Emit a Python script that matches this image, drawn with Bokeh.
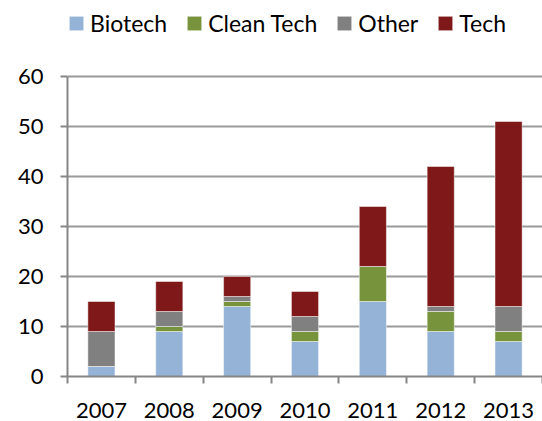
from bokeh.plotting import figure
from bokeh.models import ColumnDataSource, Range1d, FixedTicker, Legend, LegendItem
from bokeh.embed import file_html
from bokeh.resources import INLINE

years = ["2007", "2008", "2009", "2010", "2011", "2012", "2013"]
biotech = [2, 9, 14, 7, 15, 9, 7]
clean_tech = [0, 1, 1, 2, 7, 4, 2]
other = [7, 3, 1, 3, 0, 1, 5]
tech = [6, 6, 4, 5, 12, 28, 37]
series = ["Biotech", "Clean Tech", "Other", "Tech"]
colors = ["#95B3D7", "#77933C", "#808080", "#7F1919"]
y_ticks = [0, 10, 20, 30, 40, 50, 60]

xpos = [i + 1 for i in range(len(years))]
source = ColumnDataSource(dict(x=xpos, Biotech=biotech, **{"Clean Tech": clean_tech},
                               Other=other, Tech=tech))

FONT = "Lato"
AX = "#868686"

# frame runs to the top of the figure so the legend sits inside it;
# the value axis itself is bounded to 0..60
p = figure(width=542, height=421, output_backend="svg", toolbar_location=None,
           x_range=Range1d(0.5, len(years) + 0.5), y_range=Range1d(0, 74.4),
           min_border_left=67, min_border_right=0, min_border_top=4, min_border_bottom=45)
p.outline_line_color = None

renderers = p.vbar_stack(series, x="x", width=0.4, source=source, color=colors,
                         line_color="white", line_width=0.8, line_alpha=0.6)

# x axis
p.xaxis.ticker = FixedTicker(ticks=xpos, minor_ticks=[i + 0.5 for i in range(len(years) + 1)])
p.xaxis.major_label_overrides = {x: y for x, y in zip(xpos, years)}
p.xaxis.major_tick_line_color = None
p.xaxis.major_tick_out = 0
p.xaxis.major_tick_in = 0
p.xaxis.minor_tick_line_color = AX
p.xaxis.minor_tick_line_width = 2
p.xaxis.minor_tick_out = 7
p.xaxis.minor_tick_in = 0
p.xaxis.axis_line_color = AX
p.xaxis.axis_line_width = 2
p.xaxis.major_label_text_font = FONT
p.xaxis.major_label_text_font_size = "22px"
p.xaxis.major_label_text_color = "#000000"
p.xaxis.major_label_standoff = 19

# y axis
p.yaxis.ticker = FixedTicker(ticks=y_ticks)
p.yaxis.bounds = (y_ticks[0], y_ticks[-1])
p.yaxis.axis_line_color = AX
p.yaxis.axis_line_width = 2
p.yaxis.major_tick_line_color = AX
p.yaxis.major_tick_line_width = 2
p.yaxis.major_tick_out = 7
p.yaxis.major_tick_in = 0
p.yaxis.minor_tick_line_color = None
p.yaxis.major_label_text_font = FONT
p.yaxis.major_label_text_font_size = "22px"
p.yaxis.major_label_text_color = "#000000"
p.yaxis.major_label_standoff = 17

p.xgrid.grid_line_color = None
p.ygrid.grid_line_color = "#9a9a9a"
p.ygrid.grid_line_width = 2

legend = Legend(items=[LegendItem(label=s, renderers=[r]) for s, r in zip(series, renderers)],
                orientation="horizontal", location=(0, 339),
                label_text_font=FONT, label_text_font_size="23px", label_text_color="#000000",
                glyph_width=18, glyph_height=18, label_standoff=5, spacing=18,
                padding=0, margin=0, border_line_color=None, background_fill_alpha=0)
p.add_layout(legend, "center")

open("out.html", "w").write(file_html(p, INLINE))
